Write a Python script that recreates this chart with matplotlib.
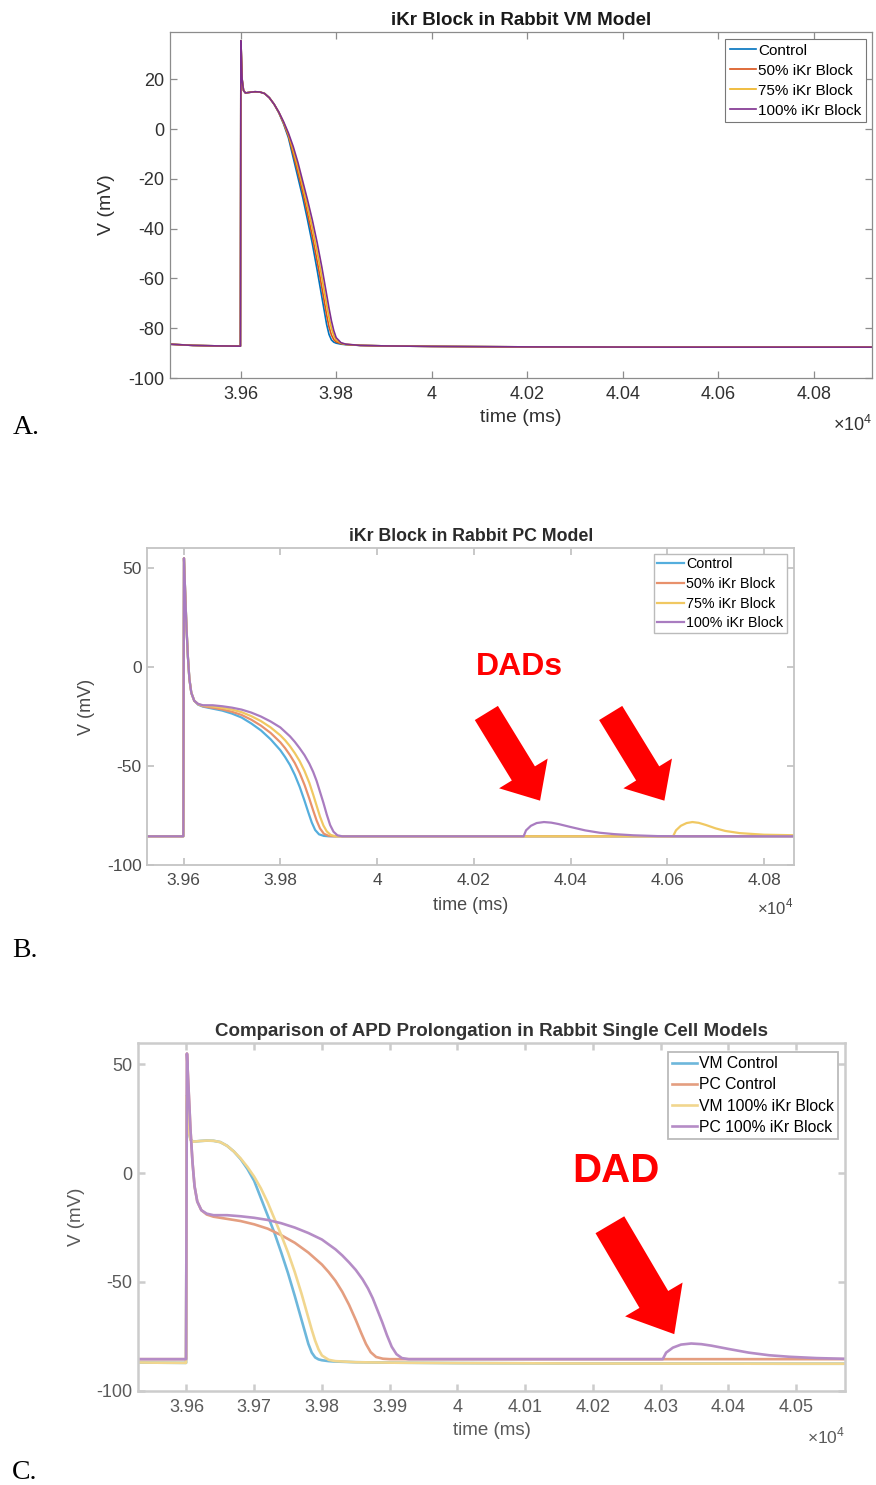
import numpy as np
import matplotlib.pyplot as plt
from matplotlib.patches import FancyArrowPatch
from matplotlib.ticker import FuncFormatter

plt.rcParams['font.family'] = ['Liberation Sans', 'DejaVu Sans']
plt.rcParams['mathtext.fontset'] = 'custom'
plt.rcParams['mathtext.rm'] = 'Liberation Sans'
plt.rcParams['axes.unicode_minus'] = False

# ---------------------------
# Data (time in ms, V in mV)
# ---------------------------
# rabbit VM model
t_vm = [39450, 39500, 39550, 39599.5, 39600.5, 39603, 39606, 39610, 39620, 39630,
        39640, 39650, 39660, 39670, 39680,
        39690, 39700, 39710, 39720, 39730, 39740, 39750, 39760, 39765, 39770,
        39775, 39780, 39785, 39790, 39795, 39800, 39810, 39820, 39850,
        39900, 40000, 40200, 40500, 40930]
v_vm_ctrl = [-86.4, -86.9, -87.1, -87.2, 35.5, 20.0, 15.5, 14.5, 14.8, 15.0,
             14.9, 14.3, 12.6, 10.0, 6.5,
             2.0, -3.5, -11.5, -19.5, -27.5, -36.5, -46.0, -56.5, -62.0, -67.5,
             -73.0, -78.5, -82.5, -84.7, -85.6, -86.0, -86.4, -86.6, -86.9,
             -87.1, -87.3, -87.5, -87.6, -87.6]
v_vm_50 = [-86.4, -86.9, -87.1, -87.2, 35.5, 20.0, 15.5, 14.5, 14.8, 15.0,
           14.9, 14.3, 12.6, 10.0, 6.6,
           2.3, -2.8, -10.0, -17.5, -25.3, -34.0, -43.0, -53.0, -58.2, -63.7,
           -69.2, -74.7, -79.5, -82.7, -84.6, -85.5, -86.2, -86.5, -86.9,
           -87.1, -87.3, -87.5, -87.6, -87.6]
v_vm_75 = [-86.4, -86.9, -87.1, -87.2, 35.5, 20.0, 15.5, 14.5, 14.8, 15.0,
           14.9, 14.3, 12.6, 10.0, 6.7,
           2.6, -2.2, -8.5, -15.5, -23.1, -31.2, -39.7, -49.2, -54.3, -59.6,
           -65.1, -70.6, -75.8, -80.0, -83.0, -84.8, -86.0, -86.5, -86.9,
           -87.1, -87.3, -87.5, -87.6, -87.6]
v_vm_100 = [-86.4, -86.9, -87.1, -87.2, 35.5, 20.0, 15.5, 14.5, 14.8, 15.0,
            14.9, 14.3, 12.6, 10.0, 6.8,
            2.9, -1.6, -7.0, -13.5, -21.0, -28.5, -36.5, -45.5, -50.5, -55.5,
            -61.0, -66.5, -72.0, -77.0, -81.0, -83.8, -85.8, -86.4, -86.9,
            -87.1, -87.3, -87.5, -87.6, -87.6]

# rabbit PC model
t_pc_ctrl = [39450, 39599.5, 39600.8, 39603, 39606, 39609, 39612, 39616, 39622, 39630,
             39640, 39660, 39680, 39700, 39720, 39740, 39760, 39780, 39800, 39810,
             39820, 39830, 39840, 39850, 39858, 39865, 39872, 39880, 39890, 39900,
             40870]
v_pc_ctrl = [-85.5, -85.5, 55.0, 40.0, 20.0, 5.0, -6.0, -13.0, -17.0, -19.0,
             -20.0, -21.0, -22.0, -23.5, -25.5, -28.5, -32.0, -36.5, -42.0, -45.5,
             -49.5, -54.5, -60.5, -67.5, -73.5, -78.5, -82.3, -84.5, -85.3, -85.5,
             -85.5]

t_pc_50 = [39450, 39599.5, 39600.8, 39603, 39606, 39609, 39612, 39616, 39622, 39630,
           39640, 39660, 39680, 39700, 39720, 39740, 39760, 39780, 39800, 39810,
           39820, 39830, 39840, 39850, 39860, 39868, 39875, 39882, 39890, 39900,
           39910, 40870]
v_pc_50 = [-85.5, -85.5, 55.0, 40.0, 20.0, 5.0, -6.0, -13.0, -17.0, -18.8,
           -19.8, -20.6, -21.4, -22.6, -24.2, -26.6, -29.6, -33.3, -38.0, -41.0,
           -44.5, -48.5, -53.5, -59.5, -66.5, -72.5, -77.5, -81.5, -84.2, -85.3,
           -85.5, -85.5]

t_pc_75 = [39450, 39599.5, 39600.8, 39603, 39606, 39609, 39612, 39616, 39622, 39630,
           39640, 39660, 39680, 39700, 39720, 39740, 39760, 39780, 39800, 39810,
           39820, 39830, 39840, 39850, 39860, 39868, 39875, 39882, 39889, 39896,
           39904, 39914, 40612, 40618, 40628, 40640, 40652, 40665, 40680, 40700,
           40720, 40750, 40800, 40870]
v_pc_75 = [-85.5, -85.5, 55.0, 40.0, 20.0, 5.0, -6.0, -13.0, -17.0, -18.7,
           -19.5, -19.9, -20.6, -21.5, -22.8, -24.8, -27.3, -30.5, -34.5, -37.0,
           -40.0, -43.5, -47.5, -52.5, -58.5, -64.5, -70.0, -75.5, -80.0, -83.0,
           -84.8, -85.5, -85.5, -82.5, -80.2, -78.8, -78.3, -78.7, -79.8, -81.5,
           -82.8, -83.9, -84.7, -85.0]

t_pc_100 = [39450, 39599.5, 39600.8, 39603, 39606, 39609, 39612, 39616, 39622, 39630,
            39640, 39660, 39680, 39700, 39720, 39740, 39760, 39780, 39800, 39820,
            39830, 39840, 39850, 39860, 39868, 39875, 39882, 39889, 39896, 39903,
            39910, 39918, 39928, 40303, 40308, 40318, 40330, 40345, 40360, 40375,
            40400, 40430, 40460, 40490, 40530, 40580, 40640, 40870]
v_pc_100 = [-85.5, -85.5, 55.0, 40.0, 20.0, 5.0, -6.0, -13.0, -17.0, -18.6,
            -19.3, -19.3, -19.8, -20.5, -21.5, -23.0, -25.0, -27.5, -30.5, -35.0,
            -37.8, -41.0, -44.5, -48.8, -53.0, -57.5, -63.0, -68.5, -74.5, -79.8,
            -83.2, -85.0, -85.5, -85.5, -82.5, -80.2, -78.8, -78.3, -78.6, -79.3,
            -80.8, -82.5, -83.7, -84.4, -85.0, -85.4, -85.5, -85.5]

labels_ab = ['Control', '50% iKr Block', '75% iKr Block', '100% iKr Block']
labels_c = ['VM Control', 'PC Control', 'VM 100% iKr Block', 'PC 100% iKr Block']

cols_a = ['#0072BD', '#D95319', '#EDB120', '#7E2F8E']
cols_b = ['#55AEDD', '#E8916C', '#F0C862', '#A97CC0']
cols_c = ['#6DB7DB', '#E49E80', '#F1D68E', '#B58CC6']

fig = plt.figure(figsize=(8.76, 14.85), dpi=100)


def style_axes(ax, spine_col, spine_lw, txt_col, fs_tick):
    for s in ax.spines.values():
        s.set_color(spine_col)
        s.set_linewidth(spine_lw)
    ax.tick_params(direction='in', top=True, right=True, length=5,
                   color=spine_col, width=spine_lw, labelcolor=txt_col,
                   labelsize=fs_tick)
    ax.tick_params(axis='x', pad=6)
    ax.tick_params(axis='y', pad=4)
    ax.xaxis.set_major_formatter(FuncFormatter(lambda v, p: f"{v / 1e4:g}"))


def red_arrow(ax, tail, tip, tw, hw, hl):
    ax.add_patch(FancyArrowPatch(
        tail, tip,
        arrowstyle=f"simple,head_length={hl},head_width={hw},tail_width={tw}",
        mutation_scale=1, shrinkA=0, shrinkB=0, color='#ff0000', lw=0, zorder=5))


# ---------------------------
# A. VM model
# ---------------------------
axA = fig.add_axes([0.19406, 0.74545, 0.80137, 0.23300])
for v, c, lab in zip([v_vm_ctrl, v_vm_50, v_vm_75, v_vm_100], cols_a, labels_ab):
    axA.plot(t_vm, v, color=c, lw=1.2, label=lab)
axA.set_xlim(39452, 40922)
axA.set_ylim(-100, 39)
axA.set_xticks(np.arange(39600, 40801, 200))
axA.set_yticks(np.arange(-100, 21, 20))
style_axes(axA, '#8c8c8c', 0.9, '#303030', 13)
axA.set_title('iKr Block in Rabbit VM Model', fontsize=13.5, fontweight='bold',
              color='#1a1a1a', pad=5)
axA.set_xlabel('time (ms)', fontsize=14, color='#303030')
axA.set_ylabel('V (mV)', fontsize=14, color='#303030')
axA.xaxis.set_label_coords(0.5, -0.09)
axA.yaxis.set_label_coords(-0.078, 0.5)
axA.text(1.0, -0.152, r'$\times10^{4}$', transform=axA.transAxes, ha='right',
         va='baseline', fontsize=13, color='#303030')
lg = axA.legend(loc='upper right', bbox_to_anchor=(0.991, 0.980), fontsize=11,
                handlelength=1.7, handletextpad=0.15, labelspacing=0.4,
                borderpad=0.3, borderaxespad=0, fancybox=False, framealpha=1)
lg.get_frame().set_edgecolor('#777777')
lg.get_frame().set_linewidth(0.8)

# ---------------------------
# B. PC model
# ---------------------------
axB = fig.add_axes([0.16815, 0.41751, 0.73824, 0.21327])
for t, v, c, lab in zip([t_pc_ctrl, t_pc_50, t_pc_75, t_pc_100],
                        [v_pc_ctrl, v_pc_50, v_pc_75, v_pc_100], cols_b, labels_ab):
    axB.plot(t, v, color=c, lw=1.6, label=lab)
axB.set_xlim(39525, 40862)
axB.set_ylim(-100, 60)
axB.set_xticks(np.arange(39600, 40801, 200))
axB.set_yticks([-100, -50, 0, 50])
style_axes(axB, '#c4c4c4', 1.3, '#4a4a4a', 12.5)
axB.set_title('iKr Block in Rabbit PC Model', fontsize=12.8, fontweight='bold',
              color='#2a2a2a', pad=5)
axB.set_xlabel('time (ms)', fontsize=13, color='#4a4a4a')
axB.set_ylabel('V (mV)', fontsize=13, color='#4a4a4a')
axB.xaxis.set_label_coords(0.5, -0.10)
axB.yaxis.set_label_coords(-0.081, 0.5)
axB.text(1.0, -0.155, r'$\times10^{4}$', transform=axB.transAxes, ha='right',
         va='baseline', fontsize=12, color='#4a4a4a')
lg = axB.legend(loc='upper right', bbox_to_anchor=(0.9887, 0.982), fontsize=10.3,
                handlelength=1.9, handletextpad=0.15, labelspacing=0.4,
                borderpad=0.22, borderaxespad=0, fancybox=False, framealpha=1)
lg.get_frame().set_edgecolor('#bbbbbb')
lg.get_frame().set_linewidth(1.0)
axB.text(40294, -4, 'DADs', color='#ff0000', fontsize=23, fontweight='bold',
         ha='center', va='baseline')
red_arrow(axB, (40226, -23.2), (40337, -67.5), 19.5, 41, 23)
red_arrow(axB, (40483, -23.2), (40594, -67.5), 19.5, 41, 23)

# ---------------------------
# C. VM vs PC comparison
# ---------------------------
axC = fig.add_axes([0.15788, 0.06350, 0.80674, 0.23434])
c_traces = [(t_vm, v_vm_ctrl), (t_pc_ctrl, v_pc_ctrl), (t_vm, v_vm_100), (t_pc_100, v_pc_100)]
for (t, v), c, lab in zip(c_traces, cols_c, labels_c):
    axC.plot(t, v, color=c, lw=1.9, label=lab)
axC.set_xlim(39529, 40572)
axC.set_ylim(-100, 60)
axC.set_xticks(np.arange(39600, 40501, 100))
axC.set_yticks([-100, -50, 0, 50])
style_axes(axC, '#cccccc', 1.8, '#5a5a5a', 13)
axC.set_title('Comparison of APD Prolongation in Rabbit Single Cell Models',
              fontsize=13.5, fontweight='bold', color='#333333', pad=4.5)
axC.set_xlabel('time (ms)', fontsize=13.5, color='#5a5a5a')
axC.set_ylabel('V (mV)', fontsize=13.5, color='#5a5a5a')
axC.xaxis.set_label_coords(0.5, -0.09)
axC.yaxis.set_label_coords(-0.075, 0.5)
axC.text(1.0, -0.150, r'$\times10^{4}$', transform=axC.transAxes, ha='right',
         va='baseline', fontsize=12.5, color='#5a5a5a')
lg = axC.legend(loc='upper right', bbox_to_anchor=(0.990, 0.973), fontsize=11.3,
                handlelength=1.6, handletextpad=0.15, labelspacing=0.4,
                borderpad=0.25, borderaxespad=0, fancybox=False, framealpha=1)
lg.get_frame().set_edgecolor('#bbbbbb')
lg.get_frame().set_linewidth(1.3)
axC.text(40234, -3.9, 'DAD', color='#ff0000', fontsize=29, fontweight='bold',
         ha='center', va='baseline')
red_arrow(axC, (40225, -23.7), (40320, -74), 24, 48, 29)

# panel letters
for y, s in [(0.7077, 'A.'), (0.3556, 'B.'), (0.0040, 'C.')]:
    fig.text(0.014, y, s, fontsize=20, family='Liberation Serif', va='baseline')

fig.savefig('out.png', dpi=100)
